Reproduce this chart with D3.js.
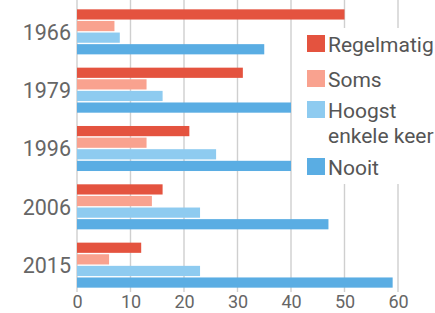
<!DOCTYPE html>
<html><head><meta charset="utf-8">
<script src="https://cdn.jsdelivr.net/npm/d3@7"></script>
<style>
html,body{margin:0;padding:0;background:#fff;}
svg{display:block;font-family:Roboto, "DejaVu Sans", sans-serif;}
</style></head>
<body>
<script>
const years = ["1966","1979","1996","2006","2015"];
const seriesNames = ["Regelmatig","Soms","Hoogst enkele keer","Nooit"];
const regelmatig = [50, 31, 21, 16, 12];
const soms = [7, 13, 13, 14, 6];
const hoogstEnkeleKeer = [8, 16, 26, 23, 23];
const nooit = [35, 40, 40, 47, 59];
const xTicks = [0, 10, 20, 30, 40, 50, 60];
const colors = ["#e4533f", "#f9a28f", "#8ecbf0", "#5aade3"];

const values = [regelmatig, soms, hoogstEnkeleKeer, nooit];
const rows = [];
years.forEach((y, i) => seriesNames.forEach((s, j) => rows.push({year: y, series: s, value: values[j][i], color: colors[j]})));

const W = 435, H = 313;
const svg = d3.select("body").append("svg").attr("width", W).attr("height", H);

const x = d3.scaleLinear().domain([0, 60]).range([77, 398]);
const y = d3.scaleBand().domain(years).range([0, 297]).paddingInner(0.228).paddingOuter(0.16);
const ySub = d3.scaleBand().domain(seriesNames).range([0, y.bandwidth()]).paddingInner(0.12);

// gridlines
svg.append("g").selectAll("line").data(xTicks).join("line")
  .attr("x1", d => x(d)).attr("x2", d => x(d))
  .attr("y1", 0).attr("y2", 292)
  .attr("stroke", "#cfcfcf").attr("stroke-width", 1.4);

// bars
svg.append("g").selectAll("rect").data(rows).join("rect")
  .attr("x", x(0))
  .attr("y", d => y(d.year) + ySub(d.series))
  .attr("width", d => x(d.value) - x(0))
  .attr("height", ySub.bandwidth())
  .attr("fill", d => d.color);

// year labels
svg.append("g").selectAll("text").data(years).join("text")
  .attr("x", 71).attr("y", d => y(d) + y.bandwidth() / 2)
  .attr("dy", "0.36em")
  .attr("text-anchor", "end")
  .attr("font-size", 21.5)
  .attr("fill", "#666")
  .text(d => d);

// x axis tick labels
const xAxis = d3.axisBottom(x).tickValues(xTicks).tickSize(0).tickPadding(0);
const gx = svg.append("g").attr("transform", "translate(0,308)").call(xAxis);
gx.select(".domain").remove();
gx.selectAll("text").attr("font-size", 18).attr("fill", "#666").attr("font-family", "Roboto, sans-serif").attr("y", 0).attr("dy", 0);

// legend
const lg = svg.append("g");
lg.append("rect").attr("x", 300).attr("y", 28).attr("width", 135).attr("height", 156).attr("fill", "#fff");
const legendItems = [
  {lines: ["Regelmatig"], color: colors[0], top: 35},
  {lines: ["Soms"], color: colors[1], top: 70},
  {lines: ["Hoogst", "enkele keer"], color: colors[2], top: 101},
  {lines: ["Nooit"], color: colors[3], top: 158}
];
legendItems.forEach(it => {
  lg.append("rect").attr("x", 307).attr("y", it.top).attr("width", 18).attr("height", 17).attr("fill", it.color);
  const t = lg.append("text").attr("x", 328).attr("y", it.top + 16.5)
    .attr("font-size", 21).attr("fill", "#555");
  it.lines.forEach((l, k) => t.append("tspan").attr("x", 328).attr("dy", k === 0 ? 0 : 25.5).text(l));
});
</script>
</body></html>
